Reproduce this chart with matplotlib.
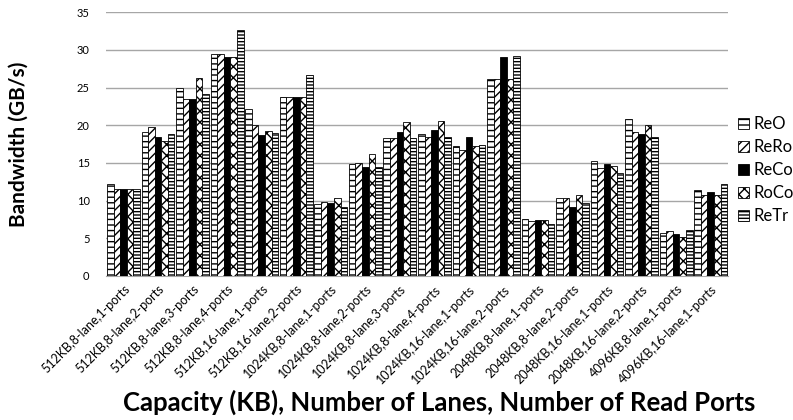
import numpy as np
import matplotlib.pyplot as plt

plt.rcParams['font.family'] = ['Lato', 'DejaVu Sans']
plt.rcParams['hatch.linewidth'] = 1.0

configs = ["512KB,8-lane,1-ports", "512KB,8-lane,2-ports", "512KB,8-lane,3-ports",
           "512KB,8-lane,4-ports", "512KB,16-lane,1-ports", "512KB,16-lane,2-ports",
           "1024KB,8-lane,1-ports", "1024KB,8-lane,2-ports", "1024KB,8-lane,3-ports",
           "1024KB,8-lane,4-ports", "1024KB,16-lane,1-ports", "1024KB,16-lane,2-ports",
           "2048KB,8-lane,1-ports", "2048KB,8-lane,2-ports", "2048KB,16-lane,1-ports",
           "2048KB,16-lane,2-ports", "4096KB,8-lane,1-ports", "4096KB,16-lane,1-ports"]

reo = [12.2, 19.1, 24.9, 29.4, 22.1, 23.8, 9.6, 14.8, 18.3, 18.9, 17.2, 26.1, 7.6, 10.3, 15.2, 20.8, 5.7, 11.4]
rero = [11.6, 19.8, 23.5, 29.4, 20.0, 23.8, 9.8, 15.0, 18.3, 18.5, 16.7, 26.1, 7.3, 10.4, 14.3, 19.1, 5.9, 10.8]
reco = [11.6, 18.5, 23.5, 29.0, 18.7, 23.8, 9.7, 14.4, 19.1, 19.3, 18.5, 29.0, 7.4, 9.2, 14.8, 18.9, 5.5, 11.1]
roco = [11.5, 17.9, 26.2, 29.1, 19.2, 23.8, 10.3, 16.2, 20.4, 20.6, 17.3, 26.1, 7.4, 10.8, 14.6, 20.0, 5.2, 10.8]
retr = [11.5, 18.9, 24.1, 32.7, 19.0, 26.7, 9.2, 14.4, 18.3, 18.5, 17.4, 29.2, 6.9, 9.7, 13.6, 18.5, 6.1, 12.2]

series = [("ReO", reo), ("ReRo", rero), ("ReCo", reco), ("RoCo", roco), ("ReTr", retr)]
styles = [dict(color="white", hatch="---"),
          dict(color="white", hatch="////"),
          dict(color="black", hatch=None),
          dict(color="white", hatch="xxx"),
          dict(color="white", hatch="-----")]

fig = plt.figure(figsize=(7.93, 4.2), dpi=100)
ax = fig.add_axes([0.134, 0.343, 0.784, 0.628])

x = np.arange(len(configs))
w = 0.19
for i, ((name, vals), st) in enumerate(zip(series, styles)):
    ax.bar(x + (i - 2) * w, vals, width=w, color=st["color"], hatch=st["hatch"],
           edgecolor="black", linewidth=0.6, label=name, zorder=3)

ax.set_xlim(-0.5, len(configs) - 0.5)
ax.set_ylim(0, 35)
ax.set_yticks(range(0, 36, 5))
ax.yaxis.grid(True, color="#a6a6a6", linewidth=1.0, zorder=0)
ax.set_axisbelow(True)
for s in ["top", "right", "left"]:
    ax.spines[s].set_visible(False)
ax.spines["bottom"].set_color("#a6a6a6")
ax.tick_params(axis="both", length=0, labelsize=8)
ax.tick_params(axis="y", pad=12)
ax.tick_params(axis="x", pad=5)

ax.set_xticks(x)
ax.set_xticklabels(configs, rotation=45, ha="right", rotation_mode="anchor", fontsize=9)

ax.set_ylabel("Bandwidth (GB/s)", fontsize=15, fontweight="bold")
ax.yaxis.set_label_coords(-0.125, 0.5)
ax.set_xlabel("Capacity (KB), Number of Lanes, Number of Read Ports", fontsize=18.5,
              fontweight="bold")
ax.xaxis.set_label_coords(0.535, -0.48)
ax.xaxis.label.set_va("center")

ax.legend(loc="center left", bbox_to_anchor=(1.005, 0.40), frameon=False, fontsize=12,
          handlelength=0.65, handleheight=0.65, handletextpad=0.3, labelspacing=0.42,
          borderaxespad=0.0)

fig.savefig("out.png", dpi=100)
